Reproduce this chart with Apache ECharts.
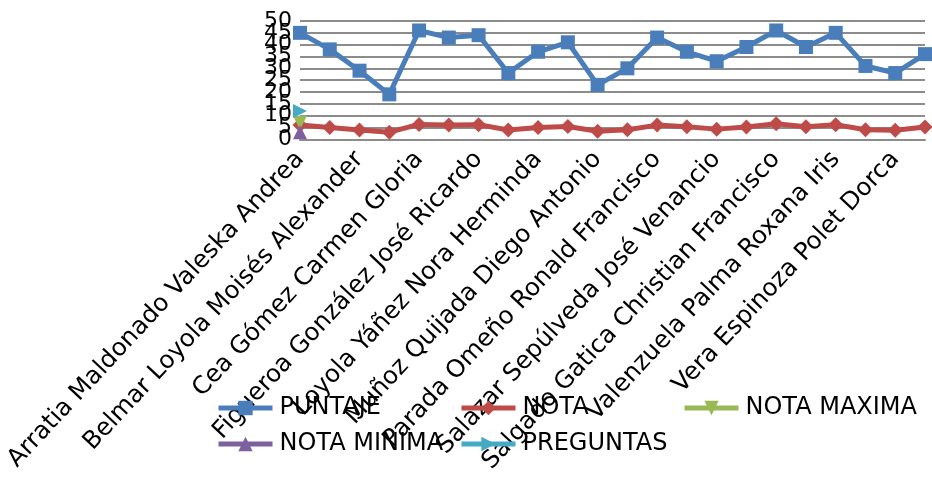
<!DOCTYPE html>
<html>
<head>
<meta charset="utf-8">
<script src="https://cdn.jsdelivr.net/npm/echarts@6/dist/echarts.min.js"></script>
<style>
html,body{margin:0;padding:0;background:#fff;}
#chart{width:932px;height:477px;}
</style>
</head>
<body>
<div id="chart"></div>
<script>
const categories = [
  "Arratia Maldonado Valeska Andrea", "",
  "Belmar Loyola Moisés Alexander", "",
  "Cea Gómez Carmen Gloria", "",
  "Figueroa González José Ricardo", "",
  "Loyola Yáñez Nora Herminda", "",
  "Muñoz Quijada Diego Antonio", "",
  "Parada Omeño Ronald Francisco", "",
  "Salazar Sepúlveda José Venancio", "",
  "Salgado Gatica Christian Francisco", "",
  "Valenzuela Palma Roxana Iris", "",
  "Vera Espinoza Polet Dorca", ""
];
const puntaje = [45, 38, 29, 19, 46, 43, 44, 28, 37, 41, 23, 30, 43, 37, 33, 39, 46, 39, 45, 31, 28, 36];
const nota = [6.0, 5.0, 3.9, 3.0, 6.3, 6.0, 6.2, 3.9, 5.0, 5.4, 3.4, 4.0, 6.0, 5.3, 4.3, 5.2, 6.6, 5.3, 6.2, 4.0, 3.8, 5.2];
const notaMaxima = [7];
const notaMinima = [3];
const preguntas = [12];
const yTicks = [0, 5, 10, 15, 20, 25, 30, 35, 40, 45, 50];

const FONT = "DejaVu Sans";
const chart = echarts.init(document.getElementById('chart'), null, {renderer: 'canvas'});

function legendAt(names, left) {
  return {
    data: names, orient: 'vertical', left: left, top: 391,
    itemWidth: 54, itemHeight: 18, itemGap: 12,
    lineStyle: {width: 5},
    textStyle: {fontFamily: FONT, fontSize: 24, color: '#000', padding: [0, 0, 0, 2]},
    selectedMode: false
  };
}

function lineSeries(name, data, color, symbol, size, rotate) {
  return {
    name: name, type: 'line', data: data,
    symbol: symbol, symbolSize: size, symbolRotate: rotate || 0,
    showSymbol: true,
    lineStyle: {color: color, width: 5},
    itemStyle: {color: color},
    animation: false
  };
}

function yAxisPart(parity, withGrid) {
  return {
    type: 'value', min: yTicks[0], max: yTicks[yTicks.length - 1], interval: yTicks[1] - yTicks[0],
    position: 'left', offset: 0,
    axisLine: {show: false}, axisTick: {show: false},
    splitLine: {show: withGrid, lineStyle: {color: '#8c8c8c', width: 2}},
    axisLabel: {
      fontFamily: FONT, fontSize: 22, color: '#000', margin: 8,
      showMinLabel: true, showMaxLabel: true,
      formatter: function (v) { return (Math.round(v / 5) % 2 === parity) ? String(v) : ''; }
    }
  };
}

chart.setOption({
  animation: false,
  grid: {left: 300, right: 7, top: 21, height: 118.3, containLabel: false, outerBoundsMode: 'none'},
  legend: [
    legendAt(['PUNTAJE', 'NOTA MINIMA'], 211),
    legendAt(['NOTA', 'PREGUNTAS'], 454),
    legendAt(['NOTA MAXIMA'], 677)
  ],
  xAxis: {
    type: 'category', data: categories, boundaryGap: false,
    axisLine: {lineStyle: {color: '#8c8c8c', width: 2}},
    axisTick: {show: false},
    axisLabel: {interval: 0, rotate: 47, fontFamily: FONT, fontSize: 24.5, color: '#000', margin: 16}
  },
  yAxis: [yAxisPart(0, true), yAxisPart(1, false)],
  series: [
    lineSeries('PUNTAJE', puntaje, '#4a7ebb', 'rect', 14),
    lineSeries('NOTA', nota, '#be4b48', 'diamond', 15),
    lineSeries('NOTA MAXIMA', notaMaxima, '#98b954', 'triangle', 14, 180),
    lineSeries('NOTA MINIMA', notaMinima, '#7d60a0', 'triangle', 14),
    lineSeries('PREGUNTAS', preguntas, '#46aac5', 'triangle', 14, -90)
  ]
});
</script>
</body>
</html>
